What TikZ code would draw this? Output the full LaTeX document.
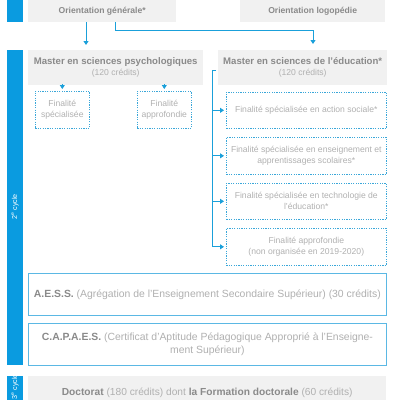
\documentclass[tikz,border=0pt]{standalone}
\usepackage{fontspec}
\setmainfont{Liberation Sans}
\usetikzlibrary{arrows.meta}
\definecolor{sideblue}{HTML}{0A9BE0}
\definecolor{lineblue}{HTML}{1AA0DA}
\definecolor{boxgray}{HTML}{F1F1F1}
\definecolor{darktext}{HTML}{8A8A8A}
\definecolor{lighttext}{HTML}{B0B0B0}
\definecolor{dashblue}{HTML}{3AA7D9}
\definecolor{frameblue}{HTML}{5BB8E4}
\begin{document}
\begin{tikzpicture}[x=1pt,y=-1pt,
  sidebar/.style={fill=sideblue, draw=none, inner sep=0pt, minimum width=16pt, anchor=north west},
  sidelabel/.style={rotate=90, text=white, font=\fontsize{7.2}{8}\selectfont, inner sep=0pt},
  graybox/.style={fill=boxgray, draw=none, anchor=north west, inner sep=0pt, align=center},
  orient/.style={graybox, font=\fontsize{8.6}{10}\selectfont\bfseries, text=darktext},
  master/.style={graybox, font=\fontsize{8.6}{11}\selectfont, text=lighttext},
  dashbox/.style={draw=dashblue, dash pattern=on 1.2pt off 1.2pt, line width=0.6pt, anchor=north west, inner sep=0pt, align=center, font=\fontsize{8.6}{11}\selectfont, text=lighttext},
  framebox/.style={draw=frameblue, line width=0.8pt, fill=white, anchor=north west, inner sep=0pt, align=center, font=\fontsize{10.4}{13}\selectfont, text=lighttext},
  conn/.style={draw=lineblue, line width=0.8pt, -{Triangle[width=5pt,length=4pt]}},
  connline/.style={draw=lineblue, line width=0.8pt}]
\useasboundingbox (0,0) rectangle (400,400);
\clip (0,0) rectangle (400,400);
% sidebars
\node[sidebar, minimum height=22pt] (sb1) at (7,0) {};
\node[sidebar, minimum height=315pt] (sb2) at (7,50) {};
\node[sidebar, minimum height=40pt] (sb3) at (7,376) {};
\node[sidelabel] (lb2) at (15,207) {2\textsuperscript{e} cycle};
\node[sidelabel] (lb3) at (15,387) {3\textsuperscript{e} cycle};
% orientation boxes
\node[orient, minimum width=148pt, minimum height=22pt] (og) at (28,0) {Orientation générale*};
\node[orient, minimum width=145pt, minimum height=22pt] (ol) at (240,0) {Orientation logopédie};
% masters
\node[master, minimum width=175pt, minimum height=35pt] (mp) at (28,50)
  {{\fontsize{9.6}{11}\selectfont\bfseries\color{darktext}Master en sciences psychologiques}\\(120 crédits)};
\node[master, minimum width=169pt, minimum height=35pt] (me) at (218,50)
  {{\fontsize{9.6}{11}\selectfont\bfseries\color{darktext}Master en sciences de l’éducation*}\\(120 crédits)};
% psych finalities
\node[dashbox, minimum width=54pt, minimum height=37pt] (fs) at (35,91) {Finalité\\spécialisée};
\node[dashbox, minimum width=54pt, minimum height=37pt] (fa) at (137,91) {Finalité\\approfondie};
% education finalities
\node[dashbox, minimum width=160pt, minimum height=36pt] (e1) at (226,92) {Finalité spécialisée en action sociale*};
\node[dashbox, minimum width=160pt, minimum height=37pt] (e2) at (226,137) {Finalité spécialisée en enseignement et\\apprentissages scolaires*};
\node[dashbox, minimum width=160pt, minimum height=36pt] (e3) at (226,183) {Finalité spécialisée en technologie de\\l’éducation*};
\node[dashbox, minimum width=160pt, minimum height=37pt] (e4) at (226,228) {Finalité approfondie\\(non organisée en 2019-2020)};
% AESS / CAPAES
\node[framebox, minimum width=358pt, minimum height=42pt] (aess) at (28,273)
  {{\bfseries\color{darktext}A.E.S.S.} (Agrégation de l’Enseignement Secondaire Supérieur) (30 crédits)};
\node[framebox, minimum width=358pt, minimum height=42pt] (capaes) at (28,323)
  {{\bfseries\color{darktext}C.A.P.A.E.S.} (Certificat d’Aptitude Pédagogique Approprié à l’Enseigne-\\ment Supérieur)};
% doctorat
\node[graybox, minimum width=358pt, minimum height=34pt, font=\fontsize{10.2}{12}\selectfont, text=lighttext] (doc) at (28,376)
  {{\bfseries\color{darktext}Doctorat} (180 crédits) dont {\bfseries\color{darktext}la Formation doctorale} (60 crédits)};
% connectors
\coordinate (c1) at (86,0);
\coordinate (c2) at (115,0);
\coordinate (c3) at (313,30);
\coordinate (spine) at (212,0);
\draw[conn, shorten >=5pt] (og.south -| c1) -- (mp.north -| c1);
\draw[conn, shorten >=6pt] (og.south -| c2) |- (c3) -- (me.north -| c3);
\draw[conn, shorten <=1pt, shorten >=2pt] (mp.south -| fs.north) -- (fs.north);
\draw[conn, shorten <=1pt, shorten >=2pt] (mp.south -| fa.north) -- (fa.north);
\draw[connline] ([xshift=-2pt,yshift=-2.5pt]me.west) -| (spine |- e4.west);
\draw[conn, shorten >=2pt] (spine |- e1.west) -- (e1.west);
\draw[conn, shorten >=2pt] (spine |- e2.west) -- (e2.west);
\draw[conn, shorten >=2pt] (spine |- e3.west) -- (e3.west);
\draw[conn, shorten >=2pt] (spine |- e4.west) -- (e4.west);
\end{tikzpicture}
\end{document}
